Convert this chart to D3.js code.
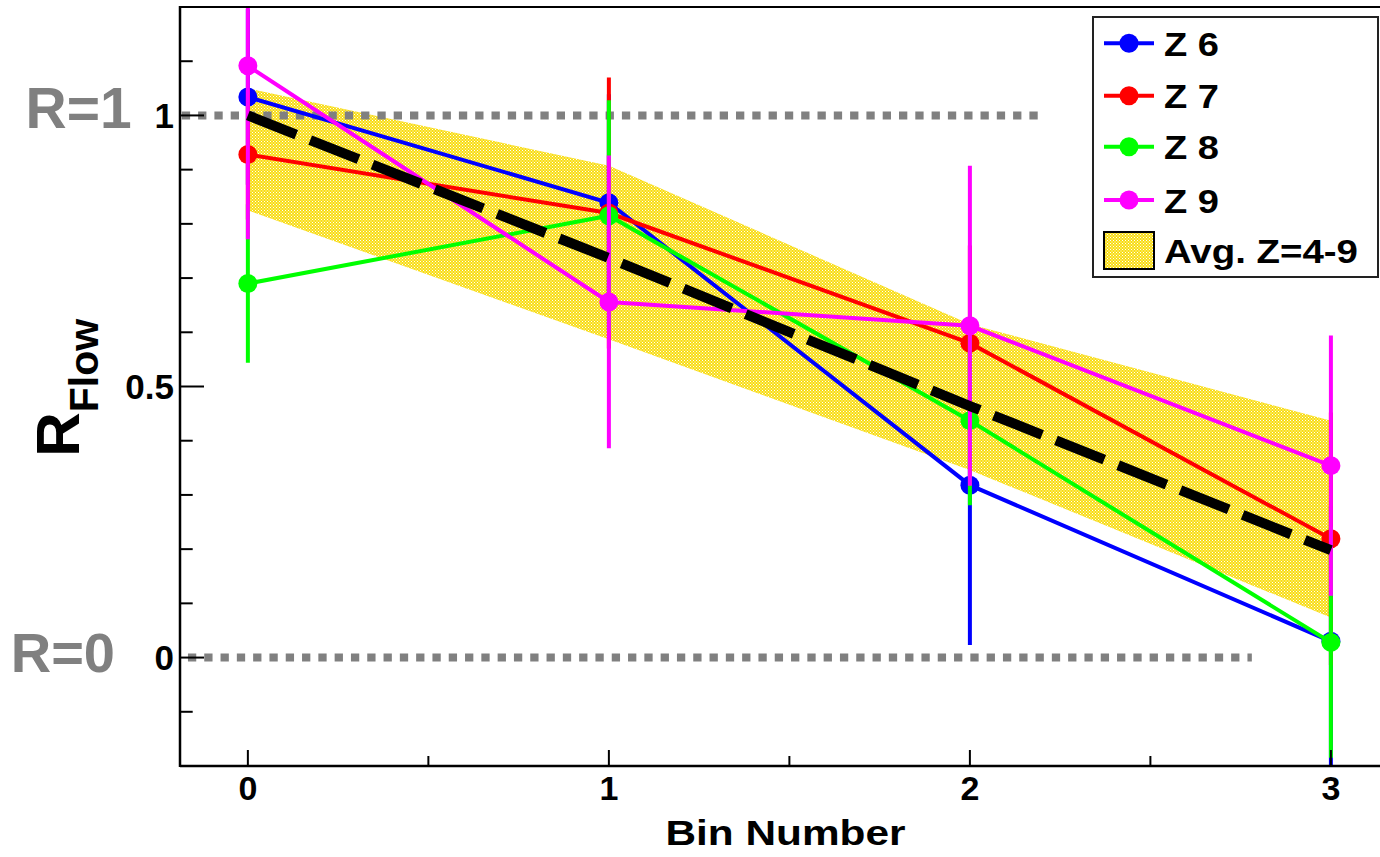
<!DOCTYPE html>
<html>
<head>
<meta charset="utf-8">
<script src="https://cdn.jsdelivr.net/npm/d3@7"></script>
<style>
  html, body { margin: 0; padding: 0; background: #fff; }
  svg { display: block; }
  text { font-family: "Liberation Sans", Arial, Helvetica, sans-serif; font-weight: bold; }
</style>
</head>
<body>
<svg id="chart" width="1380" height="857"></svg>
<script>
// ---------------- data ----------------
const bins = [0, 1, 2, 3];
const z6 = [1.034, 0.839, 0.318, 0.030];
const z6Err = [0.162, 0.20, 0.295, 0.25];
const z7 = [0.928, 0.820, 0.580, 0.219];
const z7Err = [0.12, 0.25, 0.18, 0.233];
const z8 = [0.690, 0.815, 0.437, 0.028];
const z8Err = [0.146, 0.213, 0.156, 0.213];
const z9 = [1.0915, 0.656, 0.612, 0.354];
const z9Err = [0.32, 0.27, 0.295, 0.24];
const avgLine = [1.0, 0.737, 0.464, 0.198];
const bandLow = [0.825, 0.587, 0.346, 0.074];
const bandHigh = [1.05, 0.907, 0.615, 0.437];
const seriesNames = ["Z 6", "Z 7", "Z 8", "Z 9"];
const seriesColors = ["#0000ff", "#ff0000", "#00ff00", "#ff00ff"];
const bandLabel = "Avg. Z=4-9";
const xTickValues = [0, 1, 2, 3];
const xTickLabels = ["0", "1", "2", "3"];
const yTickValues = [0, 0.5, 1];
const yTickLabels = ["0", "0.5", "1"];
const refLines = [ // y value, x extent (data units), label
  { y: 1, x0: -0.183, x1: 2.208, label: "R=1" },
  { y: 0, x0: -0.166, x1: 2.781, label: "R=0" }
];
const xTitle = "Bin Number";

// ---------------- layout ----------------
const svg = d3.select("#chart");
const L = 180, R = 1380, T = 7, B = 766;
const x = d3.scaleLinear().domain([-0.188, 3.136]).range([L, R]);
const y = d3.scaleLinear().domain([-0.2, 1.2]).range([B, T]);
const bandColor = "#f8dc12";

const defs = svg.append("defs");
const pat = defs.append("pattern").attr("id", "dotsPat")
  .attr("patternUnits", "userSpaceOnUse").attr("width", 3).attr("height", 3);
pat.append("rect").attr("x", 0).attr("y", 0).attr("width", 1).attr("height", 1).attr("fill", "#ffffff");
pat.append("rect").attr("x", 1.5).attr("y", 1.5).attr("width", 1).attr("height", 1).attr("fill", "#ffffff");
defs.append("clipPath").attr("id", "clip").append("rect")
  .attr("x", L).attr("y", T).attr("width", R - L).attr("height", B - T);

const plot = svg.append("g").attr("clip-path", "url(#clip)");

// band
const area = d3.area().x((d, i) => x(bins[i])).y0((d, i) => y(bandLow[i])).y1((d, i) => y(bandHigh[i]));
plot.append("path").datum(bins).attr("d", area).attr("fill", bandColor);
plot.append("path").datum(bins).attr("d", area).attr("fill", "url(#dotsPat)");

// reference dotted lines
refLines.forEach(r => {
  plot.append("line")
    .attr("x1", x(r.x0)).attr("x2", x(r.x1))
    .attr("y1", y(r.y)).attr("y2", y(r.y))
    .attr("stroke", "#808080").attr("stroke-width", 8)
    .attr("stroke-dasharray", "8.3 8");
});

// series
const seriesVals = [z6, z7, z8, z9];
const seriesErrs = [z6Err, z7Err, z8Err, z9Err];
const line = d3.line().x((d, i) => x(bins[i])).y(d => y(d));
seriesVals.forEach((vals, s) => {
  const g = plot.append("g");
  const col = seriesColors[s];
  g.selectAll("line.err").data(vals).join("line")
    .attr("x1", (d, i) => x(bins[i])).attr("x2", (d, i) => x(bins[i]))
    .attr("y1", (d, i) => y(d - seriesErrs[s][i]))
    .attr("y2", (d, i) => y(d + seriesErrs[s][i]))
    .attr("stroke", col).attr("stroke-width", 4);
  g.append("path").datum(vals).attr("d", line)
    .attr("fill", "none").attr("stroke", col).attr("stroke-width", 4);
  g.selectAll("circle").data(vals).join("circle")
    .attr("cx", (d, i) => x(bins[i])).attr("cy", d => y(d))
    .attr("r", 9.5).attr("fill", col);
});

// average dashed line
plot.append("path").datum(avgLine).attr("d", line)
  .attr("fill", "none").attr("stroke", "#000").attr("stroke-width", 10)
  .attr("stroke-dasharray", "52 15");

// ---------------- axes ----------------
const ax = svg.append("g");
ax.append("line").attr("x1", L).attr("x2", R).attr("y1", T).attr("y2", T).attr("stroke", "#000").attr("stroke-width", 2);
ax.append("line").attr("x1", L).attr("x2", L).attr("y1", T - 1).attr("y2", B + 1).attr("stroke", "#000").attr("stroke-width", 2.5);
ax.append("line").attr("x1", L).attr("x2", R).attr("y1", B).attr("y2", B).attr("stroke", "#000").attr("stroke-width", 2.5);

// y ticks
const yMinor = d3.range(-0.1, 1.15, 0.1).map(v => +v.toFixed(2));
yMinor.forEach(v => {
  const major = yTickValues.some(t => Math.abs(t - v) < 1e-6);
  ax.append("line").attr("x1", L).attr("x2", L + (major ? 24 : 12.7))
    .attr("y1", y(v)).attr("y2", y(v)).attr("stroke", "#000").attr("stroke-width", 2);
});
yTickValues.forEach((v, i) => {
  ax.append("text").attr("x", 174).attr("y", y(v) + 12.5)
    .attr("text-anchor", "end").attr("font-size", 35).text(yTickLabels[i]);
});

// x ticks
const xMinor = d3.range(0, 3.01, 0.5);
xMinor.forEach(v => {
  const major = xTickValues.includes(v);
  ax.append("line").attr("x1", x(v)).attr("x2", x(v))
    .attr("y1", B).attr("y2", B - (major ? 16 : 10)).attr("stroke", "#000").attr("stroke-width", 2);
});
xTickValues.forEach((v, i) => {
  ax.append("text").attr("x", x(v)).attr("y", 800)
    .attr("text-anchor", "middle").attr("font-size", 34).text(xTickLabels[i]);
});

// axis titles
ax.append("text").attr("x", 785.5).attr("y", 845).attr("text-anchor", "middle")
  .attr("font-size", 35).attr("textLength", 240).attr("lengthAdjust", "spacingAndGlyphs")
  .text(xTitle);

const yt = ax.append("text").attr("transform", "translate(79,457) rotate(-90)");
yt.append("tspan").attr("font-size", 62).text("R");
yt.append("tspan").attr("font-size", 41).attr("dy", 18.7).text("Flow");

// R= labels
ax.append("text").attr("x", 25.5).attr("y", 128).attr("font-size", 57).attr("fill", "#808080").text(refLines[0].label);
ax.append("text").attr("x", 10.7).attr("y", 671.7).attr("font-size", 56).attr("fill", "#808080").text(refLines[1].label);

// ---------------- legend ----------------
const lg = svg.append("g");
lg.append("rect").attr("x", 1093).attr("y", 17).attr("width", 285).attr("height", 260)
  .attr("fill", "#fff").attr("stroke", "#222").attr("stroke-width", 2);
const rowY = [43.3, 95.7, 146.7, 200];
seriesNames.forEach((n, s) => {
  lg.append("line").attr("x1", 1104).attr("x2", 1154).attr("y1", rowY[s]).attr("y2", rowY[s])
    .attr("stroke", seriesColors[s]).attr("stroke-width", 4);
  lg.append("circle").attr("cx", 1129).attr("cy", rowY[s]).attr("r", 9.5).attr("fill", seriesColors[s]);
  lg.append("text").attr("x", 1164).attr("y", rowY[s] + 12.5).attr("font-size", 34)
    .attr("textLength", 55).attr("lengthAdjust", "spacingAndGlyphs").text(n);
});
lg.append("rect").attr("x", 1104).attr("y", 232).attr("width", 50).attr("height", 37)
  .attr("fill", bandColor);
lg.append("rect").attr("x", 1104).attr("y", 232).attr("width", 50).attr("height", 37)
  .attr("fill", "url(#dotsPat)").attr("stroke", "#000").attr("stroke-width", 2);
lg.append("text").attr("x", 1164).attr("y", 263).attr("font-size", 34)
  .attr("textLength", 194).attr("lengthAdjust", "spacingAndGlyphs").text(bandLabel);
</script>
</body>
</html>
